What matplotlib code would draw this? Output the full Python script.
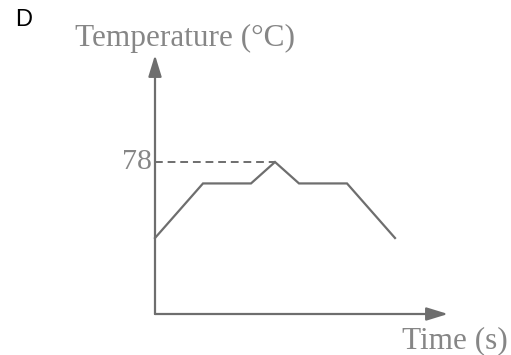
import matplotlib.pyplot as plt

# data (time in arbitrary units, temperature in degC)
time = [0, 1, 2, 2.5, 3, 4, 5]
temp = [39, 67, 67, 78, 67, 67, 39]
peak_label = "78"
x_label = "Time (s)"
y_label = "Temperature (°C)"
panel = "D"

W, H = 511, 355
fig = plt.figure(figsize=(W / 100, H / 100), dpi=100)

# axes placed so the origin sits at the corner of the drawn axes
x0, y0 = 155, 314   # pixel position of origin
x1, y1 = 448, 55    # arrow tips
ax = fig.add_axes([x0 / W, 1 - y0 / H, (x1 - x0) / W, (y0 - y1) / H])
ax.set_xlim(0, (x1 - x0) / 48)
ax.set_ylim(0, (y0 - y1) / (152 / 78))
ax.axis("off")

grey = "#6e6e6e"
tgrey = "#868686"
serif = ["Liberation Serif", "DejaVu Serif"]

# axes arrows
for tip in [(0, 1), (1, 0)]:
    ax.annotate("", xy=tip, xytext=(0, 0), xycoords="axes fraction",
                arrowprops=dict(arrowstyle="-|>,head_length=1.3,head_width=0.4",
                                color=grey, lw=1.6, shrinkA=0, shrinkB=0))

# temperature curve
ax.plot(time, temp, color=grey, lw=1.6, solid_joinstyle="miter", clip_on=False)

# dashed guide to the peak
i_peak = temp.index(max(temp))
ax.plot([0, time[i_peak]], [temp[i_peak], temp[i_peak]], color=grey,
        lw=1.4, ls=(0, (4, 2.5)), clip_on=False)
ax.text(-0.06, temp[i_peak], peak_label, ha="right", va="center",
        fontsize=21.5, color=tgrey, family=serif)

# axis labels
fig.text(185 / W, 1 - 46 / H, y_label, ha="center", va="baseline",
         fontsize=22.5, color=tgrey, family=serif)
fig.text(508 / W, 1 - 348 / H, x_label, ha="right", va="baseline",
         fontsize=22.5, color=tgrey, family=serif)

fig.text(15 / W, 1 - 26 / H, panel, ha="left", va="baseline",
         fontsize=17, color="black", family=["Liberation Sans", "DejaVu Sans"])

fig.savefig("out.png", dpi=100)
